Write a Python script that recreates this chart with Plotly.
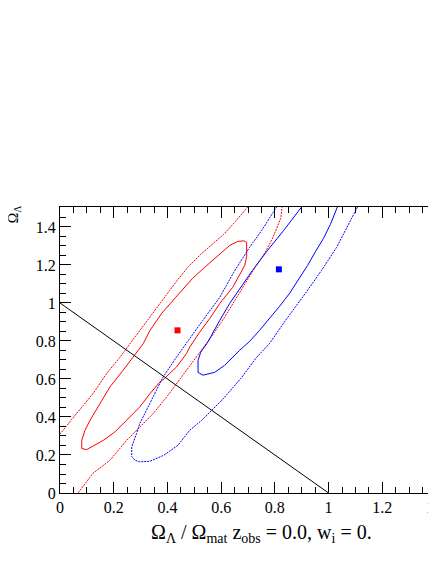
import plotly.graph_objects as go

# ---- data ----
red_outer_left_x = [0.714, 0.699, 0.654, 0.610, 0.565, 0.524, 0.476, 0.431, 0.387, 0.342, 0.297, 0.260, 0.223, 0.174, 0.124, 0.062, 0.000, -0.010]
red_outer_left_y = [1.530, 1.504, 1.430, 1.362, 1.309, 1.256, 1.188, 1.109, 1.025, 0.941, 0.856, 0.788, 0.714, 0.630, 0.525, 0.419, 0.310, 0.280]
red_outer_right_x = [0.055, 0.067, 0.123, 0.186, 0.248, 0.297, 0.347, 0.397, 0.434, 0.471, 0.520, 0.565, 0.610, 0.651, 0.688, 0.729, 0.762, 0.788, 0.807, 0.822, 0.827, 0.829]
red_outer_right_y = [-0.020, 0.000, 0.104, 0.172, 0.277, 0.347, 0.418, 0.505, 0.576, 0.646, 0.741, 0.825, 0.919, 1.014, 1.093, 1.193, 1.262, 1.330, 1.393, 1.446, 1.504, 1.540]

red_inner_x = [0.695, 0.695, 0.688, 0.669, 0.643, 0.595, 0.558, 0.520, 0.483, 0.471, 0.434, 0.390, 0.372, 0.335, 0.297, 0.248, 0.204, 0.161, 0.124, 0.099,
               0.081, 0.081, 0.093, 0.112, 0.149, 0.186, 0.235, 0.279, 0.310, 0.335, 0.379, 0.431, 0.494, 0.539, 0.569, 0.602, 0.632, 0.662, 0.684, 0.695]
red_inner_y = [1.319, 1.245, 1.198, 1.146, 1.082, 0.998, 0.919, 0.846, 0.768, 0.734, 0.663, 0.604, 0.584, 0.523, 0.453, 0.383, 0.321, 0.277, 0.246, 0.228,
               0.234, 0.277, 0.330, 0.383, 0.471, 0.558, 0.646, 0.725, 0.786, 0.856, 0.946, 1.030, 1.130, 1.188, 1.225, 1.266, 1.303, 1.324, 1.327, 1.319]

blue_outer_x = [0.814, 0.806, 0.751, 0.706, 0.647, 0.595, 0.532, 0.477, 0.434, 0.409, 0.384, 0.359, 0.335, 0.316, 0.297, 0.285, 0.267, 0.267, 0.279, 0.297,
                0.335, 0.387, 0.439, 0.483, 0.528, 0.565, 0.613, 0.677, 0.729, 0.781, 0.840, 0.914, 0.974, 1.030, 1.063, 1.086, 1.108, 1.115]
blue_outer_y = [1.520, 1.504, 1.382, 1.293, 1.162, 1.030, 0.909, 0.804, 0.716, 0.663, 0.611, 0.541, 0.471, 0.418, 0.365, 0.313, 0.242, 0.193, 0.172, 0.164,
                0.167, 0.199, 0.251, 0.330, 0.383, 0.435, 0.504, 0.609, 0.709, 0.788, 0.909, 1.051, 1.172, 1.293, 1.382, 1.446, 1.504, 1.525]

blue_inner_x = [0.907, 0.899, 0.833, 0.773, 0.717, 0.669, 0.632, 0.595, 0.550, 0.524, 0.514, 0.514, 0.532, 0.576, 0.613, 0.669, 0.706, 0.743,
                0.781, 0.818, 0.855, 0.892, 0.922, 0.952, 0.981, 1.007, 1.033, 1.037]
blue_inner_y = [1.520, 1.504, 1.382, 1.277, 1.172, 1.077, 0.998, 0.909, 0.793, 0.741, 0.698, 0.635, 0.620, 0.635, 0.672, 0.751, 0.798, 0.856,
                0.919, 0.983, 1.051, 1.130, 1.198, 1.272, 1.340, 1.414, 1.498, 1.520]

red_point = (0.4375, 0.856)
blue_point = (0.815, 1.177)

flat_x = [0.0, 1.0]
flat_y = [1.0, 0.0]

RED = "#ff0000"
BLUE = "#0000ff"
SERIF = "Liberation Serif"

fig = go.Figure()

# red outer contour joined through a point outside the plot window
fig.add_trace(go.Scatter(x=red_outer_left_x + [-0.06] + red_outer_right_x,
                         y=red_outer_left_y + [-0.06] + red_outer_right_y,
                         mode="lines", line=dict(color=RED, width=1, dash="2px,1px"),
                         hoverinfo="skip"))
fig.add_trace(go.Scatter(x=red_inner_x, y=red_inner_y, mode="lines",
                         line=dict(color=RED, width=1), hoverinfo="skip"))
fig.add_trace(go.Scatter(x=blue_outer_x, y=blue_outer_y, mode="lines",
                         line=dict(color=BLUE, width=1, dash="2px,1px"), hoverinfo="skip"))
fig.add_trace(go.Scatter(x=blue_inner_x, y=blue_inner_y, mode="lines",
                         line=dict(color=BLUE, width=1), hoverinfo="skip"))
fig.add_trace(go.Scatter(x=flat_x, y=flat_y, mode="lines",
                         line=dict(color="black", width=1), hoverinfo="skip"))
fig.add_trace(go.Scatter(x=[red_point[0]], y=[red_point[1]], mode="markers",
                         marker=dict(symbol="square", size=6, color=RED), hoverinfo="skip"))
fig.add_trace(go.Scatter(x=[blue_point[0]], y=[blue_point[1]], mode="markers",
                         marker=dict(symbol="square", size=6, color=BLUE), hoverinfo="skip"))

axis_common = dict(
    showgrid=False, zeroline=False, showline=True, linecolor="black", linewidth=1,
    ticks="inside", ticklen=11, tickwidth=1, tickcolor="black", automargin=False,
    tickfont=dict(family=SERIF, size=16, color="black"),
)

fig.update_xaxes(range=[0, 1.4], tick0=0, dtick=0.2, mirror="ticks",
                 minor=dict(dtick=0.05, ticks="inside", ticklen=6, tickcolor="black", tickwidth=1),
                 ticklabeloverflow="allow", **axis_common)
fig.update_yaxes(range=[0, 1.505], tick0=0, dtick=0.2, mirror=False,
                 minor=dict(dtick=0.05, ticks="inside", ticklen=6, tickcolor="black", tickwidth=1),
                 **axis_common)

fig.add_annotation(text="Ω<sub>Λ</sub> / Ω<sub>mat</sub> z<sub>obs</sub> = 0.0, w<sub>i</sub> = 0.",
                   xref="x", yref="paper", x=0.75, y=-0.14, xanchor="center", yanchor="middle",
                   showarrow=False, font=dict(family=SERIF, size=20, color="black"))
fig.add_annotation(text="Ω<sub>Λ</sub>", textangle=-90,
                   xref="paper", yref="paper", x=-0.122, y=0.975, xanchor="center", yanchor="middle",
                   showarrow=False, font=dict(family=SERIF, size=14, color="black"))

# the page body has an 8px default margin, so the figure is 8px smaller
fig.update_layout(width=428, height=556, margin=dict(l=52, r=0, t=199, b=71),
                  font=dict(family=SERIF, color="black"),
                  paper_bgcolor="white", plot_bgcolor="white", showlegend=False)

fig.write_html("out.html")
